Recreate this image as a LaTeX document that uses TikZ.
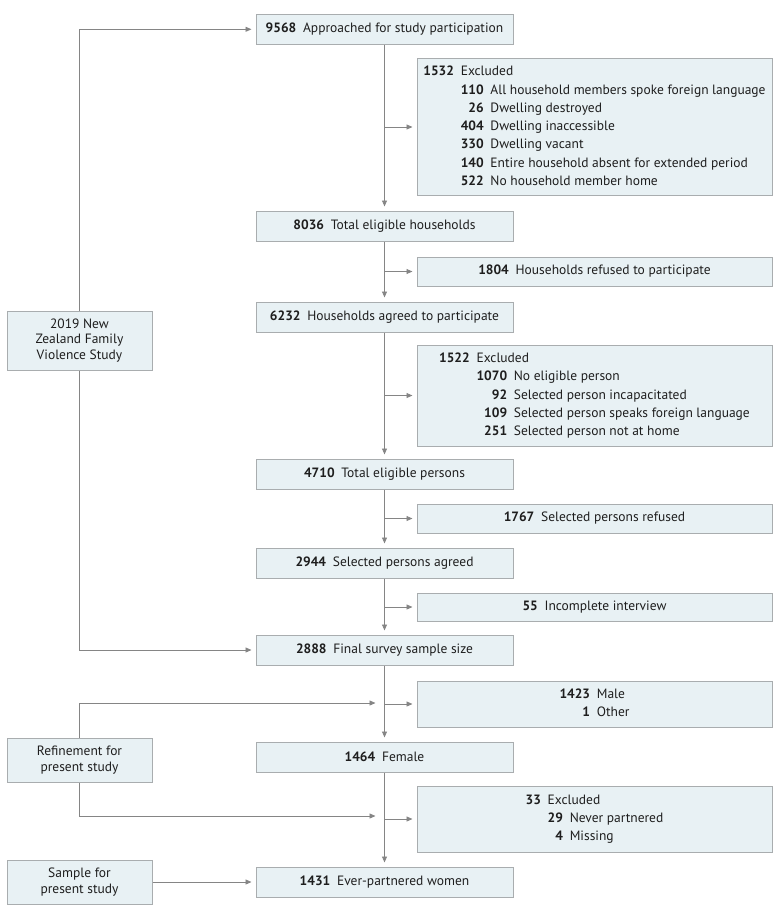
\documentclass[tikz,border=0pt]{standalone}
\usepackage{fontspec}
\setmainfont{PT Sans}
\usepackage{tikz}
\usetikzlibrary{arrows.meta,calc}
\definecolor{boxfill}{HTML}{E8F1F4}
\definecolor{boxline}{HTML}{A9ADAF}
\definecolor{flowgray}{HTML}{858585}
\definecolor{inkdark}{HTML}{1E1E1E}

\begin{document}
\begin{tikzpicture}[x=1pt,y=-1pt,
		n/.style={draw=boxline,fill=boxfill,line width=1pt,inner sep=0pt,align=center,text=inkdark,font=\fontsize{13.5}{18.3}\selectfont},
		main/.style={n,minimum width=257pt,minimum height=30pt},
		side/.style={n,minimum width=355pt},
		src/.style={n,minimum width=145pt,font=\fontsize{13.5}{15.8}\selectfont},
		e/.style={-{Triangle[length=6pt,width=5pt]},draw=flowgray,line width=0.9pt,shorten >=4pt}
		]
		\useasboundingbox (0,0) rectangle (780,915);

		% Main flow
		\node[main] (a1) at (384.5,29.3) {\textbf{9568}\enspace Approached for study participation};
		\node[main] (a2) at (384.5,226) {\textbf{8036}\enspace Total eligible households};
		\node[main] (a3) at (384.5,317) {\textbf{6232}\enspace Households agreed to participate};
		\node[main] (a4) at (384.5,474) {\textbf{4710}\enspace Total eligible persons};
		\node[main] (a5) at (384.5,563) {\textbf{2944}\enspace Selected persons agreed};
		\node[main] (a6) at (384.5,650) {\textbf{2888}\enspace Final survey sample size};
		\node[main] (a7) at (384.5,757) {\textbf{1464}\enspace Female};
		\node[main] (a8) at (384.5,882) {\textbf{1431}\enspace Ever-partnered women};

		% Exclusions
		\node[side,minimum height=136pt] (x1) at (594.5,127) {\begin{tabular}{@{}r@{\enspace}r@{\enspace}l@{}}
				\textbf{1532} & \multicolumn{2}{@{}l@{}}{Excluded}\\
				& \textbf{110} & All household members spoke foreign language\\
				& \textbf{26} & Dwelling destroyed\\
				& \textbf{404} & Dwelling inaccessible\\
				& \textbf{330} & Dwelling vacant\\
				& \textbf{140} & Entire household absent for extended period\\
				& \textbf{522} & No household member home
		\end{tabular}};
		\node[side,minimum height=29pt] (x2) at (594.5,271.5) {\textbf{1804}\enspace Households refused to participate};
		\node[side,minimum height=101pt] (x3) at (594.5,395.5) {\begin{tabular}{@{}r@{\enspace}r@{\enspace}l@{}}
				\textbf{1522} & \multicolumn{2}{@{}l@{}}{Excluded}\\
				& \textbf{1070} & No eligible person\\
				& \textbf{92} & Selected person incapacitated\\
				& \textbf{109} & Selected person speaks foreign language\\
				& \textbf{251} & Selected person not at home
		\end{tabular}};
		\node[side,minimum height=29pt] (x4) at (594.5,518.5) {\textbf{1767}\enspace Selected persons refused};
		\node[side,minimum height=28pt] (x5) at (594.5,607) {\textbf{55}\enspace Incomplete interview};
		\node[side,minimum height=46pt] (x6) at (594.5,704) {\begin{tabular}{@{}r@{\enspace}l@{}}
				\textbf{1423} & Male\\
				\textbf{1} & Other
		\end{tabular}};
		\node[side,minimum height=66pt] (x7) at (594.5,819) {\begin{tabular}{@{}r@{\enspace}r@{\enspace}l@{}}
				\textbf{33} & \multicolumn{2}{@{}l@{}}{Excluded}\\
				& \textbf{29} & Never partnered\\
				& \textbf{4} & Missing
		\end{tabular}};

		% Study stages
		\node[src,minimum height=59pt] (s1) at (79.5,340.5) {2019 New\\Zealand Family\\Violence Study};
		\node[src,minimum height=44pt] (s2) at (79.5,760) {Refinement for\\present study};
		\node[src,minimum height=44pt] (s3) at (79.5,882) {Sample for\\present study};

		\coordinate (j1) at (384.5,703);
		\coordinate (j2) at (384.5,816);

		\draw[e] (a1) -- (a2); \draw[e] (a2) -- (a3); \draw[e] (a3) -- (a4);
		\draw[e] (a4) -- (a5); \draw[e] (a5) -- (a6); \draw[e] (a6) -- (a7);
		\draw[e] (a7) -- (a8);
		\draw[e] (a1 |- x1) -- (x1); \draw[e] (a2 |- x2) -- (x2);
		\draw[e] (a3 |- x3) -- (x3); \draw[e] (a4 |- x4) -- (x4);
		\draw[e] (a5 |- x5) -- (x5); \draw[e] (a6 |- x6) -- (x6);
		\draw[e] (a7 |- x7) -- (x7);

		\draw[e] (s1) |- (a1); \draw[e] (s1) |- (a6);
		\draw[e,shorten >=9pt] (s2) |- (j1); \draw[e,shorten >=9pt] (s2) |- (j2);
		\draw[e] (s3) -- (a8);
	\end{tikzpicture}
\end{document}
